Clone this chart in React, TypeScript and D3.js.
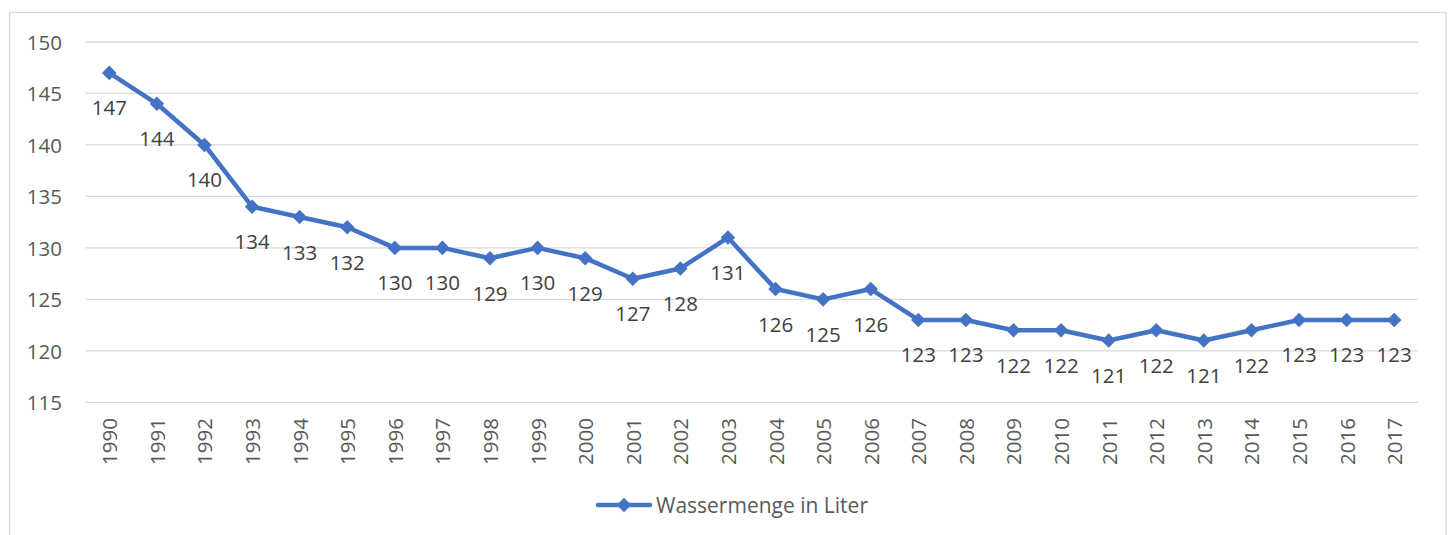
import React, { useEffect, useRef } from 'react';
import * as d3 from 'd3'

const years = ['1990', '1991', '1992', '1993', '1994', '1995', '1996', '1997', '1998', '1999', '2000', '2001', '2002', '2003', '2004', '2005', '2006', '2007', '2008', '2009', '2010', '2011', '2012', '2013', '2014', '2015', '2016', '2017']
const wasser = [147, 144, 140, 134, 133, 132, 130, 130, 129, 130, 129, 127, 128, 131, 126, 125, 126, 123, 123, 122, 122, 121, 122, 121, 122, 123, 123, 123]
const yTicks = [115, 120, 125, 130, 135, 140, 145, 150]
const seriesName = 'Wassermenge in Liter'

const App: React.FC = () => {
  const svgRef = useRef() as React.MutableRefObject<SVGSVGElement>

  useEffect(() => {
    const W = 1452, H = 535
    const left = 85.5, right = 1418, top = 42, bottom = 402.3
    const font = '"Open Sans", sans-serif'
    const textColor = '#595959'
    const blue = '#4472C4'

    const svg = d3.select(svgRef.current)
    svg.html('')
    svg.attr('width', W).attr('height', H).attr('viewBox', `0 0 ${W} ${H}`)

    svg.append('rect').attr('width', W).attr('height', H).attr('fill', '#fff')

    // chart frame
    svg.append('rect')
      .attr('x', 9.5).attr('y', 12.5)
      .attr('width', 1446 - 9.5).attr('height', 600)
      .attr('fill', 'none').attr('stroke', '#d9d9d9').attr('stroke-width', 1.3)

    const x = d3.scaleBand().domain(years).range([left, right])
    const y = d3.scaleLinear().domain([115, 150]).range([bottom, top])
    const cx = (d: string) => (x(d) as number) + x.bandwidth() / 2

    // gridlines
    svg.append('g').selectAll('line').data(yTicks).join('line')
      .attr('x1', left).attr('x2', right)
      .attr('y1', d => y(d)).attr('y2', d => y(d))
      .attr('stroke', '#d9d9d9').attr('stroke-width', 1.3)

    // y tick labels
    svg.append('g').selectAll('text').data(yTicks).join('text')
      .attr('x', 62).attr('y', d => y(d))
      .attr('text-anchor', 'end').attr('dominant-baseline', 'central')
      .attr('font-family', font).attr('font-size', 20.5).attr('fill', textColor)
      .text(d => d)

    // x tick labels
    svg.append('g').selectAll('text').data(years).join('text')
      .attr('transform', d => `translate(${cx(d)}, 418) rotate(-90)`)
      .attr('text-anchor', 'end').attr('dominant-baseline', 'central')
      .attr('font-family', font).attr('font-size', 20.5).attr('fill', textColor)
      .text(d => d)

    const pts = years.map((yr, i) => [cx(yr), y(wasser[i])] as [number, number])

    svg.append('path')
      .datum(pts)
      .attr('fill', 'none').attr('stroke', blue).attr('stroke-width', 4.5)
      .attr('stroke-linejoin', 'round').attr('stroke-linecap', 'round')
      .attr('d', d3.line())

    const diamond = d3.symbol().type(d3.symbolDiamond2).size(135)
    svg.append('g').selectAll('path').data(pts).join('path')
      .attr('transform', d => `translate(${d[0]}, ${d[1]})`)
      .attr('d', diamond()).attr('fill', blue)

    // data labels
    svg.append('g').selectAll('text').data(pts).join('text')
      .attr('x', d => d[0]).attr('y', d => d[1] + 34.5)
      .attr('text-anchor', 'middle').attr('dominant-baseline', 'central')
      .attr('font-family', font).attr('font-size', 20.5).attr('fill', '#404040')
      .text((_, i) => wasser[i])

    // legend
    const lg = svg.append('g').attr('transform', 'translate(0, 505)')
    lg.append('line').attr('x1', 598).attr('x2', 650).attr('y1', 0).attr('y2', 0)
      .attr('stroke', blue).attr('stroke-width', 4.5).attr('stroke-linecap', 'round')
    lg.append('path').attr('transform', 'translate(624, 0)').attr('d', diamond()).attr('fill', blue)
    lg.append('text').attr('x', 656).attr('y', 0)
      .attr('dominant-baseline', 'central')
      .attr('font-family', font).attr('font-size', 21).attr('fill', textColor)
      .text(seriesName)
  }, [])

  return <svg ref={svgRef} style={{ position: 'fixed', left: 0, top: 0, display: 'block' }} />
}

export default App
